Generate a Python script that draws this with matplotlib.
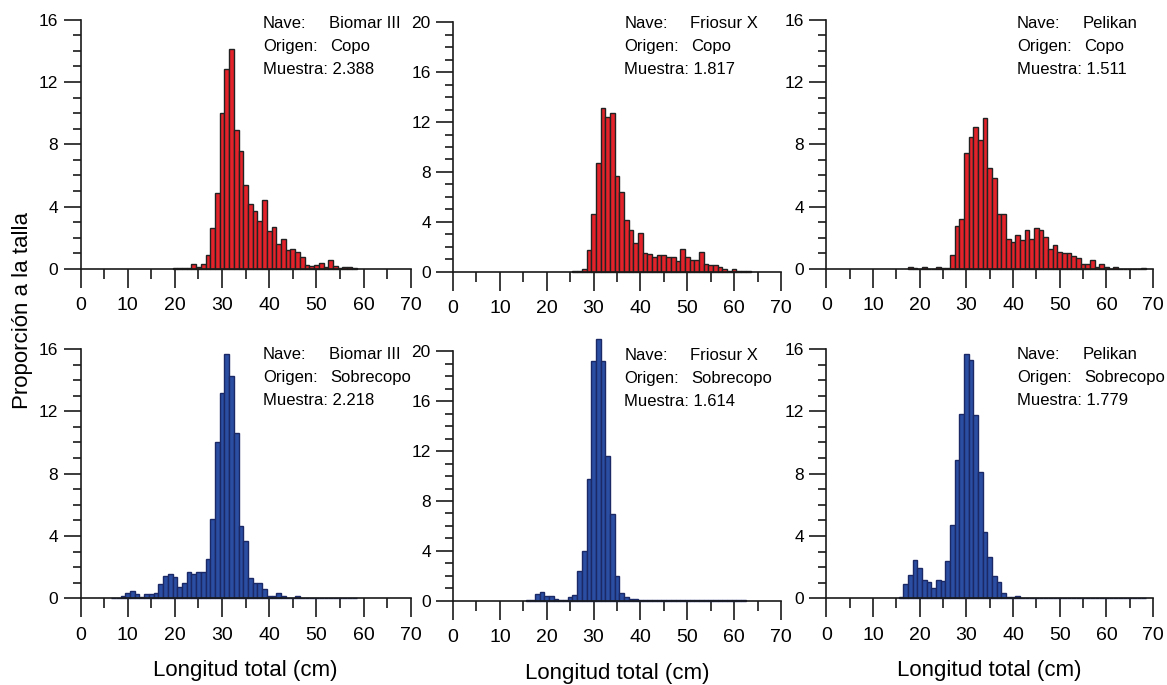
import numpy as np
import matplotlib
matplotlib.use("Agg")
import matplotlib.pyplot as plt
from matplotlib.ticker import MultipleLocator

plt.rcParams['font.family'] = ['Liberation Sans Narrow', 'Liberation Sans', 'DejaVu Sans']

# proporcion a la talla (%), bins de 1 cm, primer valor = longitud inicial
biomar_copo_start = 20
biomar_copo = [0.05, 0.05, 0.05, 0.05, 0.3, 0.15, 0.35, 0.9, 2.6, 4.9, 10.0, 12.85, 14.1,
               8.9, 7.6, 5.4, 4.2, 3.7, 3.1, 4.4, 2.45, 2.7, 1.6, 1.9, 1.2, 1.3, 1.1, 0.75,
               0.25, 0.2, 0.25, 0.4, 0.15, 0.55, 0.2, 0.05, 0.12, 0.1, 0.05]

friosur_copo_start = 26
friosur_copo = [0.03, 0.05, 0.25, 1.7, 4.6, 8.7, 13.1, 12.4, 12.7, 7.7, 6.4, 4.15, 3.35,
                2.3, 3.1, 1.5, 1.4, 1.2, 1.3, 1.3, 1.15, 1.2, 0.85, 1.8, 1.15, 0.95, 0.9,
                1.6, 0.6, 0.5, 0.5, 0.35, 0.2, 0.05, 0.25, 0.05, 0.05, 0.05]

pelikan_copo_start = 18
pelikan_copo = [0.12, 0.05, 0, 0.1, 0, 0, 0.15, 0.08, 0.08, 0.88, 2.76, 3.23, 7.43, 8.48,
                9.08, 8.27, 9.68, 6.5, 5.82, 3.51, 3.55, 1.9, 1.71, 2.18, 1.84, 2.5, 1.9,
                2.65, 2.5, 2.03, 1.26, 1.52, 1.1, 1.05, 1.0, 0.85, 0.7, 0.35, 0.3, 0.6,
                0.15, 0.35, 0.1, 0, 0.1, 0, 0, 0, 0, 0, 0.08]

biomar_sobre_start = 7
biomar_sobre = [0.02, 0.02, 0.15, 0.35, 0.49, 0.25, 0.1, 0.3, 0.3, 0.35, 0.92, 1.41, 1.56,
                1.35, 0.7, 1.0, 1.71, 1.58, 1.7, 1.7, 2.5, 5.09, 10.03, 13.2, 15.7, 14.29,
                10.63, 4.66, 3.7, 1.3, 0.96, 1.0, 0.58, 0.15, 0.15, 0.35, 0.15, 0.03, 0.03,
                0.12, 0.02, 0.02, 0.02, 0.02, 0.02, 0.02, 0.02, 0.02, 0.02, 0.02, 0.02, 0.02]

friosur_sobre_start = 16
friosur_sobre = [0.05, 0.03, 0.53, 0.67, 0.37, 0.37, 0.15, 0.03, 0.03, 0.27, 0.5, 2.35, 4.0,
                 9.75, 19.2, 20.96, 19.2, 11.6, 6.97, 1.98, 0.64, 0.27, 0.1, 0.1] + [0.03] * 23

pelikan_sobre_start = 16
pelikan_sobre = [0.1, 0.92, 1.5, 2.46, 1.95, 1.2, 1.05, 0.64, 1.16, 1.11, 2.42, 4.69, 8.89,
                 11.84, 15.65, 15.27, 11.73, 8.09, 4.24, 2.66, 1.43, 1.07, 0.36, 0.1, 0.1,
                 0.15] + [0.02] * 27

naves = ['Biomar III', 'Friosur X', 'Pelikan']
origenes = ['Copo', 'Sobrecopo']
muestras = [['2.388', '1.817', '1.511'], ['2.218', '1.614', '1.779']]
ymaxs = [16, 20, 16]

series = [[(biomar_copo_start, biomar_copo), (friosur_copo_start, friosur_copo),
           (pelikan_copo_start, pelikan_copo)],
          [(biomar_sobre_start, biomar_sobre), (friosur_sobre_start, friosur_sobre),
           (pelikan_sobre_start, pelikan_sobre)]]

colors = [('#e3222a', '#222222'), ('#2b4ea2', '#1b2a66')]

fig = plt.figure(figsize=(11.67, 6.85), dpi=100)

lefts = [0.0690, 0.3882, 0.7081]
widths = [0.2830, 0.2810, 0.2800]
bottoms = [[0.6073, 0.6034, 0.6073], [0.1266, 0.1230, 0.1266]]
height = 0.3640
labx = [0.552, 0.522, 0.583]
laby = [[0.984, 0.995, 0.984], [0.978, 0.985, 0.978]]
fs_note = 12

for r in range(2):
    for c in range(3):
        ax = fig.add_axes([lefts[c], bottoms[r][c], widths[c], height])
        start, vals = series[r][c]
        x = np.arange(start, start + len(vals))
        ax.bar(x, vals, width=1.0, color=colors[r][0], edgecolor=colors[r][1],
               linewidth=1.0, clip_on=False, zorder=2)
        ax.set_xlim(0, 70)
        ax.set_ylim(0, ymaxs[c])
        ax.spines['top'].set_visible(False)
        ax.spines['right'].set_visible(False)
        for s in ['left', 'bottom']:
            ax.spines[s].set_linewidth(1.2)
            ax.spines[s].set_color('#1a1a1a')
        ax.xaxis.set_major_locator(MultipleLocator(10))
        ax.xaxis.set_minor_locator(MultipleLocator(5))
        ax.yaxis.set_major_locator(MultipleLocator(4))
        ax.yaxis.set_minor_locator(MultipleLocator(1))
        ax.tick_params(axis='x', which='major', length=13.5, width=1.2, pad=7,
                       labelsize=14, color='#1a1a1a')
        ax.tick_params(axis='x', which='minor', length=7, width=1.2, color='#1a1a1a')
        ax.tick_params(axis='y', which='major', length=12, width=1.2, pad=4,
                       labelsize=12.5, color='#1a1a1a')
        ax.tick_params(axis='y', which='minor', length=6, width=1.2, color='#1a1a1a')
        ax.patch.set_visible(False)

        ty = laby[r][c]
        dy = 0.0925
        ax.text(labx[c], ty, 'Nave:', transform=ax.transAxes, fontsize=fs_note, va='center')
        ax.text(labx[c] + 0.2, ty, naves[c], transform=ax.transAxes, fontsize=fs_note,
                va='center')
        ax.text(labx[c], ty - dy, 'Origen:', transform=ax.transAxes, fontsize=fs_note,
                va='center')
        ax.text(labx[c] + 0.205, ty - dy, origenes[r], transform=ax.transAxes,
                fontsize=fs_note, va='center')
        ax.text(labx[c], ty - 2 * dy, 'Muestra: ' + muestras[r][c], transform=ax.transAxes,
                fontsize=fs_note, va='center')

        if r == 1:
            ax.set_xlabel('Longitud total (cm)', fontsize=16, labelpad=12)

fig.text(0.0197, 0.547, 'Proporción a la talla', rotation=90, fontsize=16,
         ha='center', va='center')

fig.savefig('out.png', dpi=100)
